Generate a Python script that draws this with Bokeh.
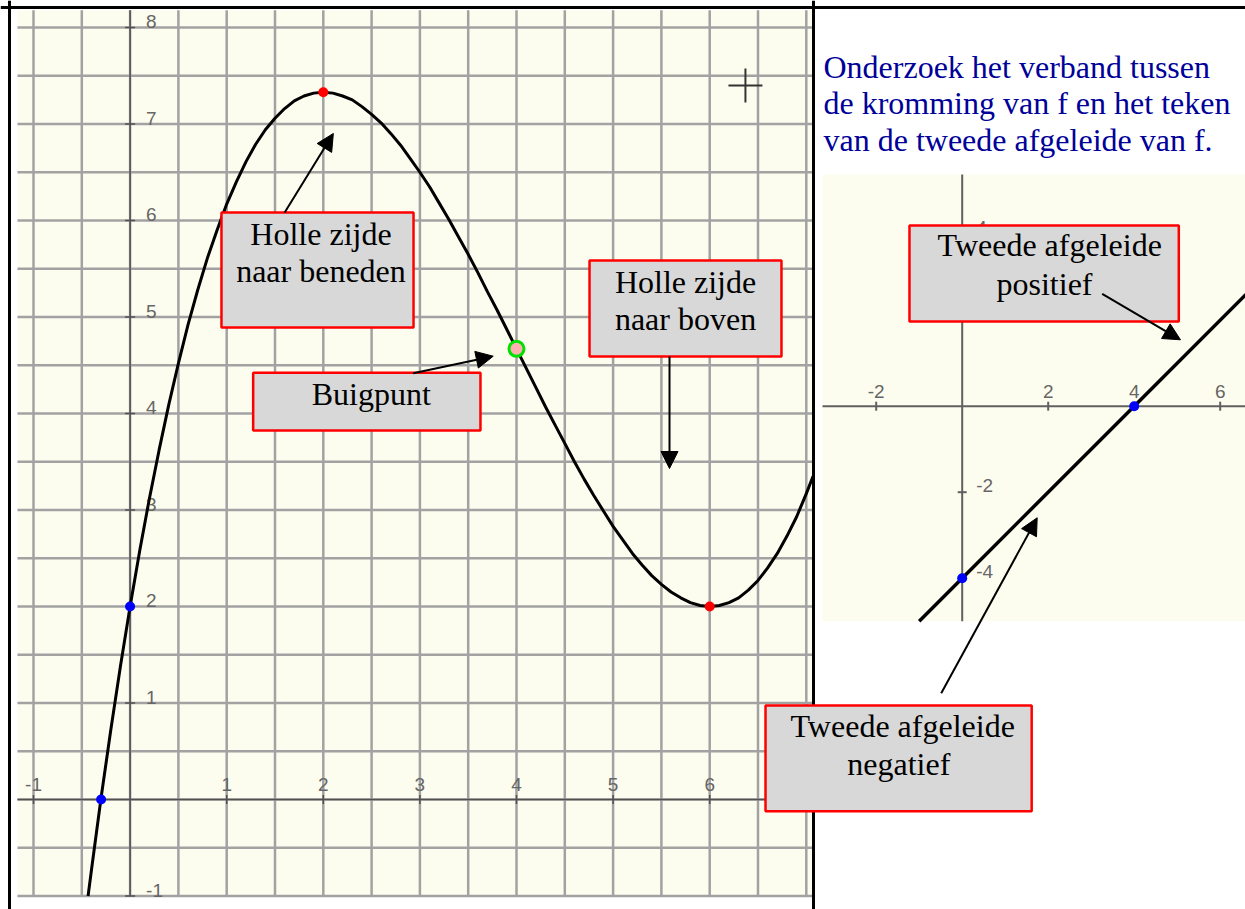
import math
from bokeh.plotting import figure
from bokeh.models import Range1d, Label, BoxAnnotation, Arrow, NormalHead, Span
from bokeh.core.properties import value
from bokeh.embed import file_html
from bokeh.resources import INLINE

# ---------------- data ----------------
# f (left graph)
f_x = [-0.435, -0.4, -0.3, -0.2, -0.1, 0.0, 0.1, 0.2, 0.3, 0.4, 0.5, 0.6, 0.7, 0.8, 0.9,
       1.0, 1.1, 1.2, 1.3, 1.4, 1.5, 1.6, 1.7, 1.8, 1.9, 2.0, 2.1, 2.2, 2.3, 2.4, 2.5,
       2.6, 2.7, 2.8, 2.9, 3.0, 3.1, 3.2, 3.3, 3.4, 3.5, 3.6, 3.7, 3.8, 3.9, 4.0, 4.1,
       4.2, 4.3, 4.4, 4.5, 4.6, 4.7, 4.8, 4.9, 5.0, 5.1, 5.2, 5.3, 5.4, 5.5, 5.6, 5.7,
       5.8, 5.9, 6.0, 6.1, 6.2, 6.3, 6.4, 6.5, 6.6, 6.7, 6.8, 6.9, 7.0, 7.07]
f_y = [-1.00, -0.73, 0.02, 0.72, 1.38, 2.00, 2.58, 3.12, 3.62, 4.09, 4.52, 4.92, 5.28, 5.61, 5.90,
       6.17, 6.40, 6.61, 6.79, 6.94, 7.06, 7.16, 7.24, 7.29, 7.32, 7.33, 7.32, 7.29, 7.25, 7.18, 7.10,
       7.01, 6.90, 6.78, 6.64, 6.50, 6.35, 6.18, 6.01, 5.83, 5.65, 5.46, 5.26, 5.07, 4.87, 4.67, 4.47,
       4.27, 4.07, 3.88, 3.69, 3.50, 3.32, 3.15, 2.99, 2.83, 2.69, 2.55, 2.43, 2.32, 2.23, 2.15, 2.09,
       2.04, 2.01, 2.00, 2.01, 2.04, 2.09, 2.17, 2.27, 2.40, 2.55, 2.73, 2.93, 3.17, 3.35]
extrema_x = [2.0, 6.0]
extrema_y = [7.33, 2.0]
blue_x = [-0.3, 0.0]
blue_y = [0.0, 2.0]
inflect_x = [4.0]
inflect_y = [4.67]

# f'' (right graph)
f2_x = [-1.0, 0.0, 4.0, 6.7]
f2_y = [-5.0, -4.0, 0.0, 2.7]
f2_pts_x = [0.0, 4.0]
f2_pts_y = [-4.0, 0.0]

# tick labels
left_xticks = [-1, 1, 2, 3, 4, 5, 6, 7]
left_xlabels = ["-1", "1", "2", "3", "4", "5", "6", "7"]
left_yticks = [-1, 1, 2, 3, 4, 5, 6, 7, 8]
left_ylabels = ["-1", "1", "2", "3", "4", "5", "6", "7", "8"]
right_xticks = [-2, 2, 4, 6]
right_xlabels = ["-2", "2", "4", "6"]
right_yticks = [-4, -2, 2, 4]
right_ylabels = ["-4", "-2", "2", "4"]

# ---------------- layout ----------------
W, H = 1245, 909
PX0, PY0 = 0, 0
LOX, LOY, LUX, LUY = 129.6, 799.0, 96.6, 96.5      # left graph origin / unit (px)
ROX, ROY, RU = 961.7, 405.7, 43.0                  # right graph origin / unit (px)
TXT_FIX = 10.0                                     # px lift for 32px serif labels

CREAM = "#fdfdef"
GRIDC = "#a2a2a2"
AXC = "#505050"
TICKC = "#666666"
SERIF = "Liberation Serif"
SANS = "Liberation Sans"

p = figure(width=W, height=H, output_backend="svg", toolbar_location=None,
           x_range=Range1d((PX0 - LOX) / LUX, (PX0 + W - LOX) / LUX),
           y_range=Range1d((LOY - (PY0 + H)) / LUY, (LOY - PY0) / LUY),
           x_axis_location=None, y_axis_location=None, min_border=0)
p.extra_x_ranges = {"r": Range1d((PX0 - ROX) / RU, (PX0 + W - ROX) / RU)}
p.extra_y_ranges = {"r": Range1d((ROY - (PY0 + H)) / RU, (ROY - PY0) / RU)}
p.outline_line_color = None
p.background_fill_color = "white"
p.border_fill_color = "white"
p.xgrid.visible = False
p.ygrid.visible = False

R = dict(x_range_name="r", y_range_name="r")

# ---- left panel ----
LX0, LX1, LY0, LY1 = -1.166, 7.07, -1.0, 8.18
p.quad(left=[LX0], right=[LX1], bottom=[LY0], top=[LY1], fill_color=CREAM, line_color=None)
gx = [-1.0 + 0.5 * i for i in range(17)]
gy = [-1.0 + 0.5 * i for i in range(19)]
p.segment(x0=gx, x1=gx, y0=[LY0] * len(gx), y1=[LY1] * len(gx), line_color=GRIDC, line_width=2.5)
p.segment(x0=[LX0] * len(gy), x1=[LX1] * len(gy), y0=gy, y1=gy, line_color=GRIDC, line_width=2.5)
p.segment(x0=[0, LX0], y0=[LY0, 0], x1=[0, LX1], y1=[LY1, 0], line_color=AXC, line_width=1.5)
p.scatter(x=left_xticks, y=[0] * len(left_xticks), marker="dash", angle=math.pi / 2, size=9,
          line_color=AXC, line_width=1.5)
p.scatter(x=[0] * len(left_yticks), y=left_yticks, marker="dash", size=10,
          line_color=AXC, line_width=1.5)
p.text(x=left_xticks, y=[0] * len(left_xticks), text=left_xlabels, text_align="center",
       text_baseline="alphabetic", y_offset=-15, text_font=value(SANS),
       text_font_size=value("19px"), text_color=TICKC)
p.text(x=[0] * len(left_yticks), y=left_yticks, text=left_ylabels, text_align="left",
       text_baseline="alphabetic", x_offset=16, y_offset=-6, text_font=value(SANS),
       text_font_size=value("19px"), text_color=TICKC)
p.line(f_x, f_y, line_color="black", line_width=3)
p.scatter(extrema_x, extrema_y, size=10, fill_color="#ff0000", line_color=None)
p.scatter(blue_x, blue_y, size=10, fill_color="#0000ff", line_color=None)
p.scatter(inflect_x, inflect_y, size=15, fill_color="#ffb0b0", line_color="#00e000", line_width=3)
p.scatter([6.37], [7.40], marker="cross", size=34, line_color="#333333", line_width=2)

# ---- right panel ----
RX0, RX1, RY0, RY1 = -3.249, 6.8, -5.0, 5.388
p.quad(left=[RX0], right=[RX1], bottom=[RY0], top=[RY1], fill_color=CREAM, line_color=None, **R)
p.segment(x0=[0, RX0], y0=[RY0, 0], x1=[0, RX1], y1=[RY1, 0], line_color="#606060", line_width=2, **R)
p.scatter(x=right_xticks, y=[0] * len(right_xticks), marker="dash", angle=math.pi / 2, size=9,
          line_color="#606060", line_width=2, **R)
p.scatter(x=[0] * len(right_yticks), y=right_yticks, marker="dash", size=9,
          line_color="#606060", line_width=2, **R)
p.text(x=right_xticks, y=[0] * len(right_xticks), text=right_xlabels, text_align="center",
       text_baseline="alphabetic", y_offset=-15, text_font=value(SANS),
       text_font_size=value("19px"), text_color=TICKC, **R)
p.text(x=[0] * len(right_yticks), y=right_yticks, text=right_ylabels, text_align="left",
       text_baseline="alphabetic", x_offset=14, y_offset=-7, text_font=value(SANS),
       text_font_size=value("19px"), text_color=TICKC, **R)
p.line(f2_x, f2_y, line_color="black", line_width=3.5, **R)
p.scatter(f2_pts_x, f2_pts_y, size=10, fill_color="#0000ff", line_color=None, **R)

# ---- frame lines ----
p.add_layout(Span(location=(LOY - 7.0) / LUY, dimension="width", line_color="black", line_width=3))
p.add_layout(Span(location=(9.0 - LOX) / LUX, dimension="height", line_color="black", line_width=3))
p.add_layout(Span(location=(813.0 - LOX) / LUX, dimension="height", line_color="black", line_width=3))

# ---- blue question text ----
question = ["Onderzoek het verband tussen",
            "de kromming van f en het teken",
            "van de tweede afgeleide van f."]
for i, line in enumerate(question):
    p.add_layout(Label(x=-3.226, y=7.667 - 0.86 * i + TXT_FIX / RU, text=line, text_font=SERIF,
                       text_font_size="32px", text_color="#000099", text_align="left",
                       text_baseline="alphabetic", **R))

# ---- annotation boxes ----
def box(left, right, top, bottom, lines, rng=None):
    kw = R if rng else {}
    unit = RU if rng else LUY
    p.add_layout(BoxAnnotation(left=left, right=right, top=top, bottom=bottom,
                               fill_color="#d8d8d8", fill_alpha=1.0, line_color="#ff0000",
                               line_alpha=1.0, line_width=2.5, **kw))
    for (tx, ty, t) in lines:
        p.add_layout(Label(x=tx, y=ty + TXT_FIX / unit, text=t, text_font=SERIF,
                           text_font_size="32px", text_color="black", text_align="center",
                           text_baseline="alphabetic", **kw))

def arrow(x0, y0, x1, y1, rng=None):
    kw = R if rng else {}
    p.add_layout(Arrow(end=NormalHead(size=17, fill_color="black", line_color="black"),
                       x_start=x0, y_start=y0, x_end=x1, y_end=y1,
                       line_color="black", line_width=2, **kw))

box(0.946, 2.934, 6.083, 4.891, [(1.976, 5.759, "Holle zijde"), (1.976, 5.378, "naar beneden")])
arrow(1.600, 6.083, 2.104, 6.902)
box(1.274, 3.627, 4.422, 3.824, [(2.496, 4.100, "Buigpunt")])
arrow(2.931, 4.418, 3.759, 4.594)
box(4.756, 6.743, 5.585, 4.591, [(5.750, 5.257, "Holle zijde"), (5.750, 4.876, "naar boven")])
arrow(5.584, 4.591, 5.584, 3.430)
box(-1.226, 5.037, 4.202, 1.970, [(2.035, 3.505, "Tweede afgeleide"), (1.914, 2.614, "positief")], rng=True)
arrow(3.256, 2.614, 5.077, 1.544, rng=True)
box(-4.574, 1.616, -6.963, -9.419, [(-1.384, -7.681, "Tweede afgeleide"), (-1.474, -8.549, "negatief")], rng=True)
arrow(-0.488, -6.674, 1.744, -2.595, rng=True)

open("out.html", "w").write(file_html(p, INLINE))
